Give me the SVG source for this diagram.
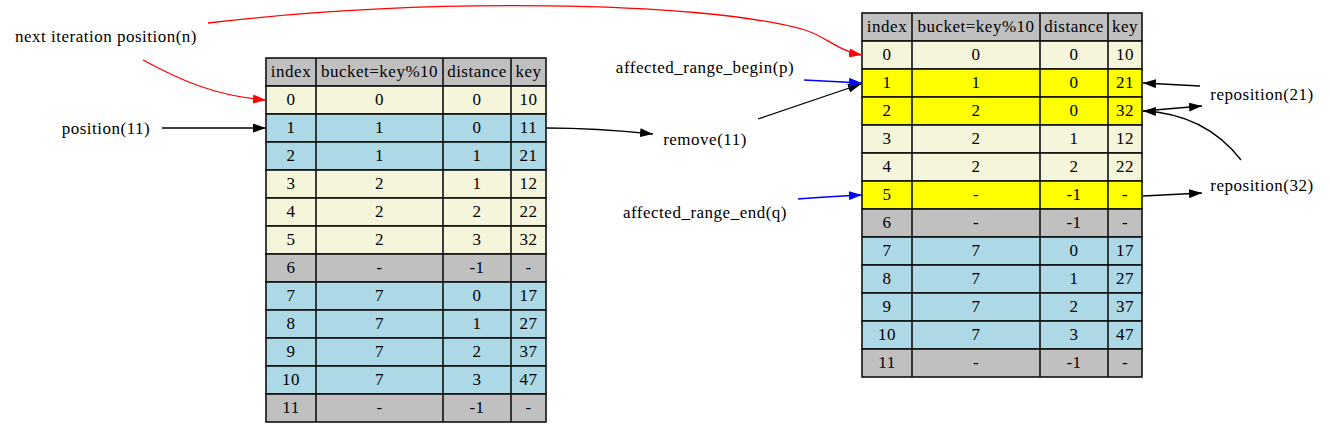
<svg xmlns="http://www.w3.org/2000/svg" width="1331" height="433" viewBox="0 0 1331 433">
<style>
text{font-family:"Liberation Serif","Times New Roman",serif;font-size:17px;letter-spacing:0.5px;fill:#000;text-anchor:middle}
.r{stroke:#111;stroke-width:1.6}
.g{fill:#c0c0c0}.b{fill:#f5f5dc}.l{fill:#add8e6}.y{fill:#ffff00}
.v{fill:none;stroke:#111;stroke-width:1.6}
.e{fill:none;stroke:#000;stroke-width:1.3}
.er{fill:none;stroke:#ff0000;stroke-width:1.3}
.eb{fill:none;stroke:#0000ff;stroke-width:1.3}
</style>
<defs>
<marker id="ak" markerWidth="13" markerHeight="9" refX="13" refY="4.5" orient="auto" markerUnits="userSpaceOnUse"><path d="M0,0 L13,4.5 L0,9 z" fill="#000"/></marker>
<marker id="ar" markerWidth="13" markerHeight="9" refX="13" refY="4.5" orient="auto" markerUnits="userSpaceOnUse"><path d="M0,0 L13,4.5 L0,9 z" fill="#ff0000"/></marker>
<marker id="abl" markerWidth="13" markerHeight="9" refX="13" refY="4.5" orient="auto" markerUnits="userSpaceOnUse"><path d="M0,0 L13,4.5 L0,9 z" fill="#0000ff"/></marker>
</defs>
<rect width="1331" height="433" fill="#fff"/>

<g id="table_before">
<rect class="r g" x="266" y="58" width="280" height="28"/>
<rect class="r b" x="266" y="86" width="280" height="28"/>
<rect class="r l" x="266" y="114" width="280" height="28"/>
<rect class="r l" x="266" y="142" width="280" height="28"/>
<rect class="r b" x="266" y="170" width="280" height="28"/>
<rect class="r b" x="266" y="198" width="280" height="28"/>
<rect class="r b" x="266" y="226" width="280" height="28"/>
<rect class="r g" x="266" y="254" width="280" height="28"/>
<rect class="r l" x="266" y="282" width="280" height="28"/>
<rect class="r l" x="266" y="310" width="280" height="28"/>
<rect class="r l" x="266" y="338" width="280" height="28"/>
<rect class="r l" x="266" y="366" width="280" height="28"/>
<rect class="r g" x="266" y="394" width="280" height="28"/>
<path class="v" d="M316,58V422M443,58V422M511,58V422"/>
<text x="291" y="77">index</text><text x="379.5" y="77">bucket=key%10</text><text x="477" y="77">distance</text><text x="528.5" y="77">key</text>
<text x="291" y="105">0</text><text x="379.5" y="105">0</text><text x="477" y="105">0</text><text x="528.5" y="105">10</text>
<text x="291" y="133">1</text><text x="379.5" y="133">1</text><text x="477" y="133">0</text><text x="528.5" y="133">11</text>
<text x="291" y="161">2</text><text x="379.5" y="161">1</text><text x="477" y="161">1</text><text x="528.5" y="161">21</text>
<text x="291" y="189">3</text><text x="379.5" y="189">2</text><text x="477" y="189">1</text><text x="528.5" y="189">12</text>
<text x="291" y="217">4</text><text x="379.5" y="217">2</text><text x="477" y="217">2</text><text x="528.5" y="217">22</text>
<text x="291" y="245">5</text><text x="379.5" y="245">2</text><text x="477" y="245">3</text><text x="528.5" y="245">32</text>
<text x="291" y="273">6</text><text x="379.5" y="273">-</text><text x="477" y="273">-1</text><text x="528.5" y="273">-</text>
<text x="291" y="301">7</text><text x="379.5" y="301">7</text><text x="477" y="301">0</text><text x="528.5" y="301">17</text>
<text x="291" y="329">8</text><text x="379.5" y="329">7</text><text x="477" y="329">1</text><text x="528.5" y="329">27</text>
<text x="291" y="357">9</text><text x="379.5" y="357">7</text><text x="477" y="357">2</text><text x="528.5" y="357">37</text>
<text x="291" y="385">10</text><text x="379.5" y="385">7</text><text x="477" y="385">3</text><text x="528.5" y="385">47</text>
<text x="291" y="413">11</text><text x="379.5" y="413">-</text><text x="477" y="413">-1</text><text x="528.5" y="413">-</text>
</g>

<g id="table_after">
<rect class="r g" x="862" y="13" width="280" height="28"/>
<rect class="r b" x="862" y="41" width="280" height="28"/>
<rect class="r y" x="862" y="69" width="280" height="28"/>
<rect class="r y" x="862" y="97" width="280" height="28"/>
<rect class="r b" x="862" y="125" width="280" height="28"/>
<rect class="r b" x="862" y="153" width="280" height="28"/>
<rect class="r y" x="862" y="181" width="280" height="28"/>
<rect class="r g" x="862" y="209" width="280" height="28"/>
<rect class="r l" x="862" y="237" width="280" height="28"/>
<rect class="r l" x="862" y="265" width="280" height="28"/>
<rect class="r l" x="862" y="293" width="280" height="28"/>
<rect class="r l" x="862" y="321" width="280" height="28"/>
<rect class="r g" x="862" y="349" width="280" height="28"/>
<path class="v" d="M912,13V377M1040,13V377M1108,13V377"/>
<text x="887" y="32">index</text><text x="976" y="32">bucket=key%10</text><text x="1074" y="32">distance</text><text x="1125" y="32">key</text>
<text x="887" y="60">0</text><text x="976" y="60">0</text><text x="1074" y="60">0</text><text x="1125" y="60">10</text>
<text x="887" y="88">1</text><text x="976" y="88">1</text><text x="1074" y="88">0</text><text x="1125" y="88">21</text>
<text x="887" y="116">2</text><text x="976" y="116">2</text><text x="1074" y="116">0</text><text x="1125" y="116">32</text>
<text x="887" y="144">3</text><text x="976" y="144">2</text><text x="1074" y="144">1</text><text x="1125" y="144">12</text>
<text x="887" y="172">4</text><text x="976" y="172">2</text><text x="1074" y="172">2</text><text x="1125" y="172">22</text>
<text x="887" y="200">5</text><text x="976" y="200">-</text><text x="1074" y="200">-1</text><text x="1125" y="200">-</text>
<text x="887" y="228">6</text><text x="976" y="228">-</text><text x="1074" y="228">-1</text><text x="1125" y="228">-</text>
<text x="887" y="256">7</text><text x="976" y="256">7</text><text x="1074" y="256">0</text><text x="1125" y="256">17</text>
<text x="887" y="284">8</text><text x="976" y="284">7</text><text x="1074" y="284">1</text><text x="1125" y="284">27</text>
<text x="887" y="312">9</text><text x="976" y="312">7</text><text x="1074" y="312">2</text><text x="1125" y="312">37</text>
<text x="887" y="340">10</text><text x="976" y="340">7</text><text x="1074" y="340">3</text><text x="1125" y="340">47</text>
<text x="887" y="368">11</text><text x="976" y="368">-</text><text x="1074" y="368">-1</text><text x="1125" y="368">-</text>
</g>

<g id="next_iteration"><text x="106" y="42">next iteration position(n)</text></g>
<g id="position11"><text x="106" y="134">position(11)</text></g>
<g id="remove11"><text x="705" y="145">remove(11)</text></g>
<g id="range_begin"><text x="705" y="73">affected_range_begin(p)</text></g>
<g id="range_end"><text x="705" y="218">affected_range_end(q)</text></g>
<g id="reposition21"><text x="1262" y="100">reposition(21)</text></g>
<g id="reposition32"><text x="1262" y="191">reposition(32)</text></g>

<g id="connectors">
<path class="er" d="M208,23 C420,-2 700,0 805,30 C825,36 838,51 862,55" marker-end="url(#ar)"/>
<path class="er" d="M143,60 C180,80 215,96 266,100" marker-end="url(#ar)"/>
<path class="e" d="M162,128 L266,128" marker-end="url(#ak)"/>
<path class="e" d="M546,128 C580,128 615,130 653,134" marker-end="url(#ak)"/>
<path class="e" d="M758,119 L861,84" marker-end="url(#ak)"/>
<path class="eb" d="M804,80 L862,83" marker-end="url(#abl)"/>
<path class="eb" d="M798,199 C820,197 840,196 862,195" marker-end="url(#abl)"/>
<path class="e" d="M1200,86 L1143,83" marker-end="url(#ak)"/>
<path class="e" d="M1143,111 L1202,106" marker-end="url(#ak)"/>
<path class="e" d="M1241,160 C1220,133 1190,113 1143,111" marker-end="url(#ak)"/>
<path class="e" d="M1143,196 L1202,193" marker-end="url(#ak)"/>
</g>
</svg>
